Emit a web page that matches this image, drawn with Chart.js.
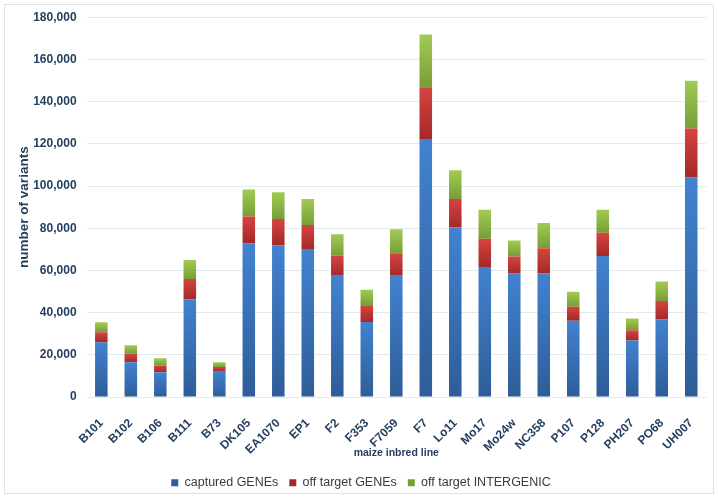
<!DOCTYPE html>
<html>
<head>
<meta charset="utf-8">
<script src="https://cdn.jsdelivr.net/npm/chart.js@4.4.0/dist/chart.umd.min.js"></script>
<style>
  html,body{margin:0;padding:0;background:#fff;}
  #wrap{position:absolute;left:0;top:0;width:718px;height:499px;}
  #frame{position:absolute;left:4px;top:4px;width:708px;height:488px;border:1px solid #dde3e8;pointer-events:none;}
</style>
</head>
<body>
<div id="wrap"><canvas id="c" width="718" height="499"></canvas></div>
<div id="frame"></div>
<script>
const categories = ["B101","B102","B106","B111","B73","DK105","EA1070","EP1","F2","F353","F7059","F7","Lo11","Mo17","Mo24w","NC358","P107","P128","PH207","PO68","UH007"];
const capturedGenes   = [26000,16500,11800,46400,12000,72900,71900,69800,57500,35600,57500,122300,80300,61600,58600,58600,36200,66800,26800,36800,104200];
const offTargetGenes  = [4700,4100,3200,9500,2200,12700,12500,11700,9600,7900,10700,24500,13500,13400,8000,11900,6600,11000,4800,8700,23000];
const offTargetInter  = [4700,4000,3400,9100,2300,12700,12600,12300,10000,7400,11300,25000,13700,13700,7600,12000,7100,10900,5600,9200,22700];
const yTicks = [0,20000,40000,60000,80000,100000,120000,140000,160000,180000];

const textColor = '#243f60';
const FONT = '"Liberation Sans", Arial, sans-serif';

function grad(colTop, colBot){
  return (ctx) => {
    const chart = ctx.chart;
    if (!chart.chartArea || ctx.type !== 'data') return colTop;
    const y = chart.scales.y;
    const i = ctx.dataIndex, d = ctx.datasetIndex;
    let base = 0;
    for (let k = 0; k < d; k++) base += chart.data.datasets[k].data[i];
    const top = base + chart.data.datasets[d].data[i];
    const y0 = y.getPixelForValue(top), y1 = y.getPixelForValue(base);
    if (!isFinite(y0) || !isFinite(y1) || y0 === y1) return colTop;
    const g = chart.ctx.createLinearGradient(0, y0, 0, y1);
    g.addColorStop(0, colTop);
    g.addColorStop(1, colBot);
    return g;
  };
}

new Chart(document.getElementById('c'), {
  type: 'bar',
  data: {
    labels: categories,
    datasets: [
      {label:'captured GENEs', data:capturedGenes, backgroundColor: grad('#4282d0','#2e5d98'), barPercentage:0.85, categoryPercentage:0.5},
      {label:'off target GENEs', data:offTargetGenes, backgroundColor: grad('#d6443f','#a3292a'), barPercentage:0.85, categoryPercentage:0.5},
      {label:'off target INTERGENIC', data:offTargetInter, backgroundColor: grad('#a2cb52','#779e38'), barPercentage:0.85, categoryPercentage:0.5}
    ]
  },
  options: {
    responsive:false,
    animation:false,
    devicePixelRatio:1,
    layout:{padding:{left:16,right:12,top:5,bottom:0}},
    plugins:{
      legend:{
        position:'bottom',
        labels:{
          boxWidth:7, boxHeight:7, padding:11,
          color:'#3a3a3a',
          font:{family:FONT, size:12.5}
        }
      },
      tooltip:{enabled:false}
    },
    scales:{
      x:{
        stacked:true,
        grid:{display:false},
        border:{display:false},
        afterFit:(axis)=>{ axis.height -= 23; },
        ticks:{
          color:textColor, maxRotation:45, minRotation:45, padding:11,
          font:{family:FONT, size:12, weight:'bold'}
        },
        title:{
          display:true, text:'maize inbred line', color:textColor, padding:{top:2,bottom:6},
          font:{family:FONT, size:10.5, weight:'bold'}
        }
      },
      y:{
        stacked:true,
        min:0, max:180000,
        afterBuildTicks:(axis)=>{ axis.ticks = yTicks.map(v=>({value:v})); },
        afterFit:(axis)=>{ axis.width -= 9; },
        grid:{color:'#e4e9ed', drawTicks:false, lineWidth:1},
        border:{display:false},
        ticks:{
          color:textColor, padding:10,
          font:{family:FONT, size:12, weight:'bold'},
          callback:(v)=>Number(v).toLocaleString('en-US')
        },
        title:{
          display:true, text:'number of variants', color:textColor, padding:{top:0,bottom:0},
          font:{family:FONT, size:13.5, weight:'bold'}
        }
      }
    }
  }
});
</script>
</body>
</html>
